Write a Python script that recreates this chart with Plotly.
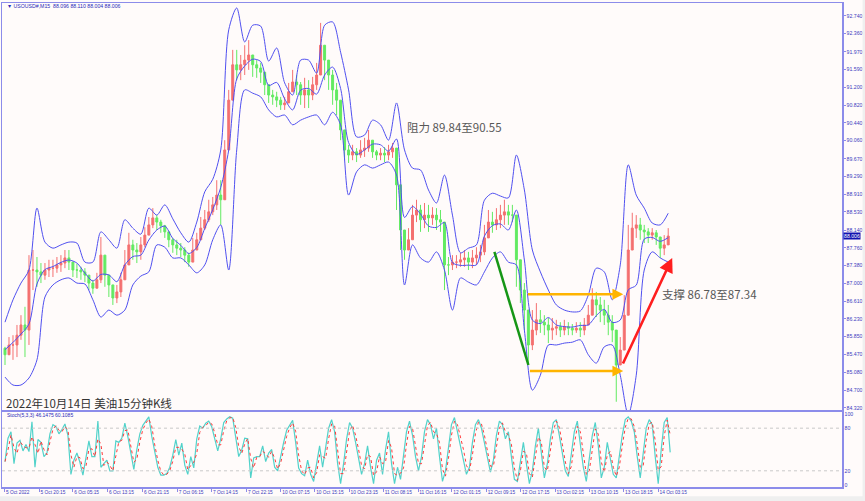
import numpy as np
import pandas as pd
import plotly.graph_objects as go

# ---------------- data ----------------
first_open = 85.60
close = [85.46, 85.67, 85.67, 85.88, 86.10, 85.99, 87.28, 87.28, 87.24, 87.17, 87.28, 87.32, 87.32, 87.39,
         87.43, 87.54, 87.45, 87.28, 87.28, 87.24, 87.17, 87.00, 86.89, 87.07, 87.60, 87.17, 86.96, 86.68,
         86.81, 87.07, 87.39, 87.82, 87.71, 87.67, 87.82, 88.03, 88.25, 88.40, 88.31, 88.23, 88.10, 87.93,
         87.82, 87.75, 87.71, 87.60, 87.45, 87.71, 87.93, 88.18, 88.36, 88.53, 88.68, 88.89, 88.79, 89.86,
         90.93, 91.69, 91.58, 91.69, 91.79, 91.90, 91.69, 91.62, 91.53, 91.26, 91.04, 91.00, 90.93, 90.83,
         90.87, 91.11, 91.32, 91.26, 91.04, 91.15, 91.04, 91.26, 91.47, 92.11, 91.79, 91.47, 91.15, 90.93,
         90.29, 89.86, 89.75, 89.82, 89.75, 89.86, 89.90, 90.07, 89.82, 89.75, 89.79, 89.75, 89.82, 89.90,
         89.11, 88.14, 87.71, 87.93, 88.46, 88.57, 88.36, 88.46, 88.40, 88.46, 88.36, 88.31, 87.39, 87.39,
         87.45, 87.45, 87.50, 87.54, 87.45, 87.54, 87.60, 87.67, 87.97, 88.31, 88.25, 88.36, 88.46, 88.53,
         88.46, 88.46, 87.50, 86.85, 86.42, 85.67, 85.99, 86.21, 86.16, 86.10, 85.99, 86.03, 86.06, 85.99,
         86.06, 86.03, 85.99, 86.03, 85.99, 86.10, 86.31, 86.64, 86.53, 86.42, 86.31, 86.16, 85.99, 85.24,
         85.56, 86.31, 87.71, 88.18, 88.25, 88.14, 88.10, 88.03, 88.08, 87.99, 87.75, 87.82, 88.01]
high = [85.63, 85.84, 85.88, 86.10, 86.31, 86.49, 87.60, 87.71, 87.56, 87.43, 87.43, 87.50, 87.50, 87.56,
        87.60, 87.71, 87.71, 87.43, 87.41, 87.35, 87.32, 87.13, 87.07, 87.22, 87.99, 87.50, 87.13, 86.85,
        86.96, 87.22, 87.71, 88.08, 87.93, 87.86, 87.99, 88.20, 88.42, 88.61, 88.46, 88.36, 88.25, 88.03,
        87.97, 87.93, 87.86, 87.77, 87.65, 87.97, 88.08, 88.42, 88.57, 88.79, 88.85, 89.21, 89.21, 90.07,
        91.15, 92.01, 92.01, 91.90, 92.11, 92.22, 91.90, 91.79, 91.73, 91.47, 91.26, 91.15, 91.11, 91.00,
        91.00, 91.30, 91.58, 91.47, 91.32, 91.41, 91.36, 91.43, 91.73, 92.59, 92.11, 91.79, 91.58, 91.30,
        90.83, 90.14, 89.97, 89.97, 89.90, 90.07, 90.12, 90.29, 89.97, 89.86, 89.90, 89.92, 89.97, 90.01,
        89.64, 88.57, 88.14, 88.18, 88.68, 88.79, 88.68, 88.72, 88.68, 88.63, 88.61, 88.57, 87.93, 87.56,
        87.60, 87.60, 87.65, 87.71, 87.67, 87.71, 87.77, 87.82, 88.25, 88.57, 88.53, 88.61, 88.68, 88.79,
        88.68, 88.68, 88.46, 87.13, 87.00, 86.27, 86.42, 86.57, 86.42, 86.31, 86.25, 86.25, 86.21, 86.16,
        86.21, 86.16, 86.12, 86.16, 86.16, 86.25, 86.53, 86.89, 86.81, 86.70, 86.64, 86.53, 86.31, 85.78,
        85.84, 86.74, 88.25, 88.51, 88.46, 88.40, 88.25, 88.18, 88.18, 88.14, 87.93, 88.03, 88.18]
low = [85.24, 85.52, 85.35, 85.41, 85.78, 85.41, 85.67, 86.85, 86.92, 87.00, 87.07, 87.13, 87.13, 87.22,
       87.24, 87.32, 87.28, 87.13, 87.11, 87.07, 87.02, 86.85, 86.77, 86.92, 87.00, 86.92, 86.70, 86.53,
       86.57, 86.70, 87.13, 87.50, 87.50, 87.43, 87.50, 87.77, 88.03, 88.18, 88.14, 88.08, 87.97, 87.77,
       87.65, 87.60, 87.56, 87.45, 87.35, 87.45, 87.71, 87.97, 88.14, 88.31, 88.46, 88.57, 88.25, 88.79,
       89.86, 90.93, 91.36, 91.36, 91.47, 91.58, 91.43, 91.41, 91.30, 91.04, 90.87, 90.83, 90.78, 90.72,
       90.72, 90.93, 91.11, 91.04, 90.83, 90.76, 90.76, 90.93, 91.15, 91.64, 91.36, 91.15, 90.83, 90.61,
       90.07, 89.64, 89.58, 89.64, 89.60, 89.69, 89.71, 89.82, 89.69, 89.64, 89.64, 89.60, 89.64, 89.69,
       88.57, 87.71, 87.50, 87.71, 88.18, 88.31, 88.10, 88.18, 88.10, 88.25, 88.14, 88.10, 86.85, 87.17,
       87.28, 87.32, 87.35, 87.35, 87.28, 87.32, 87.39, 87.45, 87.60, 88.03, 88.08, 88.14, 88.18, 88.25,
       88.25, 88.31, 86.92, 86.57, 85.99, 85.28, 85.56, 85.88, 85.93, 85.88, 85.71, 85.78, 85.88, 85.84,
       85.88, 85.88, 85.88, 85.93, 85.84, 85.88, 86.16, 86.36, 86.27, 86.16, 86.10, 85.88, 85.73, 84.45,
       85.24, 85.67, 86.64, 87.82, 87.97, 87.93, 87.86, 87.86, 87.93, 87.82, 87.54, 87.60, 87.88]

# Bollinger band (20,2) read every 8 px along the time axis
bb_upper = [86.16, 86.64, 87.00, 87.28, 88.61, 87.88, 87.75, 87.82, 87.88, 87.86, 87.45, 87.45, 88.10, 87.93,
            87.75, 88.36, 88.18, 88.05, 88.61, 88.46, 88.68, 88.38, 88.08, 87.88, 88.31, 88.96, 89.23, 89.86,
            92.44, 92.91, 92.18, 92.54, 92.52, 91.77, 92.05, 91.30, 91.04, 91.79, 91.79, 91.51, 92.54, 92.61,
            91.96, 91.15, 90.14, 90.18, 90.50, 90.40, 90.07, 90.87, 89.86, 89.47, 89.43, 89.00, 88.72, 89.32,
            88.46, 87.65, 87.75, 87.82, 88.78, 88.93, 88.87, 88.83, 89.75, 89.00, 87.71, 87.24, 86.85, 86.53,
            86.42, 86.38, 86.40, 86.74, 87.32, 87.24, 86.64, 87.39, 89.54, 88.89, 88.61, 88.29, 88.25, 88.50]
bb_lower = [84.98, 84.81, 84.81, 84.96, 85.35, 86.70, 86.96, 87.07, 87.11, 87.00, 86.98, 86.64, 86.27, 86.42,
            86.31, 86.42, 86.96, 87.15, 87.24, 87.82, 87.77, 87.54, 87.54, 87.39, 87.22, 87.39, 87.93, 88.25,
            87.28, 89.86, 91.15, 91.08, 91.00, 90.72, 90.57, 90.61, 90.40, 90.50, 90.57, 90.61, 90.40, 90.67,
            90.40, 88.89, 89.39, 89.54, 89.47, 89.54, 89.60, 89.32, 86.96, 87.82, 87.54, 87.45, 87.67, 87.28,
            86.42, 87.11, 87.02, 86.96, 87.24, 87.54, 87.67, 87.45, 87.39, 85.99, 84.70, 85.02, 85.67, 85.67,
            85.71, 85.73, 85.78, 85.46, 85.28, 85.63, 85.67, 85.02, 84.17, 85.02, 87.28, 87.67, 87.54, 87.45]

stoch_k = [33, 66, 75, 30, 59, 63, 48, 57, 47, 89,
           25, 64, 60, 40, 45, 72, 85, 82, 72, 78,
           86, 70, 15, 35, 45, 32, 14, 38, 62, 40,
           40, 90, 25, 30, 35, 20, 20, 62, 60, 66,
           87, 68, 42, 22, 50, 72, 84, 90, 96, 68,
           44, 25, 14, 14, 16, 25, 42, 64, 42, 59,
           28, 15, 40, 24, 65, 83, 80, 87, 90, 82,
           65, 48, 65, 88, 93, 96, 94, 68, 40, 49,
           66, 65, 10, 38, 40, 40, 55, 33, 45, 50,
           25, 20, 42, 60, 77, 84, 91, 60, 24, 16,
           13, 35, 15, 5, 30, 55, 25, 50, 80, 92,
           75, 30, 2, 30, 65, 88, 80, 60, 40, 15,
           30, 55, 25, 2, 35, 45, 15, 50, 75, 30,
           2, 25, 8, 40, 75, 90, 70, 40, 20, 40,
           75, 92, 85, 65, 80, 40, 5, 20, 55, 85,
           95, 75, 60, 40, 15, 25, 60, 85, 92, 80,
           60, 35, 18, 35, 70, 90, 85, 65, 75, 40,
           8, 5, 35, 60, 30, 2, 20, 55, 80, 40,
           10, 30, 65, 88, 92, 70, 45, 20, 12, 40,
           75, 90, 60, 25, 5, 35, 70, 88, 55, 10,
           25, 60, 35, 15, 10, 40, 70, 92, 96, 90,
           75, 40, 10, 45, 80, 92, 85, 40, 2, 50,
           88, 95, 46]
stoch_levels = [20, 80]

price_ticks = [92.740, 92.360, 91.970, 91.590, 91.200, 90.820, 90.440, 90.060, 89.670, 89.290, 88.910,
               88.530, 88.140, 87.760, 87.380, 87.000, 86.610, 86.230, 85.850, 85.470, 85.080, 84.700, 84.320]
time_labels = ["5 Oct 2022", "5 Oct 20:15", "6 Oct 05:15", "6 Oct 13:15", "6 Oct 21:15", "7 Oct 06:15",
               "7 Oct 14:15", "7 Oct 22:15", "10 Oct 07:15", "10 Oct 15:15", "10 Oct 23:15", "11 Oct 08:15",
               "11 Oct 16:15", "12 Oct 01:15", "12 Oct 09:15", "12 Oct 17:15", "13 Oct 02:15", "13 Oct 10:15",
               "13 Oct 18:15", "14 Oct 03:15"]
time_tick_pos = [1.7, 36.3, 70, 105, 140, 174.7, 209, 244, 278.3, 312.3, 346.7, 381, 415.5, 449.5, 484,
                 518.4, 552.8, 587.2, 621.6, 656]
last_price = 88.006
header_text = "▼ USOUSD#,M15  88.096 88.110 88.004 88.006"
stoch_text = "Stoch(5,3,3) 46.1475 60.1085"

# drawn objects (time position, price)
green_line = dict(x=[492, 526], y=[87.67, 85.24])
orange_upper = dict(x=[524, 621], y=[86.76, 86.76])
orange_lower = dict(x=[526, 621], y=[85.11, 85.11])
red_arrow = dict(x=[620, 670], y=[85.24, 87.54])
resist_label = dict(x=403, y=90.35, text="阻力 89.84至90.55")
support_label = dict(x=659, y=86.77, text="支撑 86.78至87.34")
title_label = dict(x=2, y=84.42, text="2022年10月14日 美油15分钟K线")

# ---------------- derived series ----------------
n = len(close)
candle_x = np.arange(n) * 4 + 2
opens = np.r_[first_open, np.array(close[:-1])]
hi = np.maximum(np.array(high), np.maximum(opens, close))
lo = np.minimum(np.array(low), np.minimum(opens, close))

bb_x = np.arange(len(bb_upper)) * 8 + 2
bb_up = np.array(bb_upper)
bb_lo = np.array(bb_lower)
bb_mid = (bb_up + bb_lo) / 2

k = pd.Series(stoch_k, dtype=float)
d = k.rolling(2, min_periods=1).mean()
stoch_x = np.arange(len(k)) * 3 + 2

# ---------------- figure ----------------
BG = "#FFFBFA"
AX = "#8C8CEA"
LBL = "#3C3CC0"
BAND = "#5050F0"
FONT = "Liberation Sans"

fig = go.Figure()
fig.add_trace(go.Candlestick(
    x=candle_x, open=opens, high=hi, low=lo, close=close,
    increasing=dict(line=dict(color="#F47070", width=1), fillcolor="#F47070"),
    decreasing=dict(line=dict(color="#62EA62", width=1), fillcolor="#62EA62"),
    whiskerwidth=0, showlegend=False, hoverinfo="skip", xaxis="x", yaxis="y"))
for s in (bb_up, bb_mid, bb_lo):
    fig.add_trace(go.Scatter(x=bb_x, y=s, mode="lines", line=dict(color=BAND, width=1, shape="spline", smoothing=0.8),
                             showlegend=False, hoverinfo="skip", xaxis="x", yaxis="y"))
fig.add_trace(go.Scatter(x=stoch_x, y=k, mode="lines", line=dict(color="#52D2CA", width=1.2),
                         showlegend=False, hoverinfo="skip", xaxis="x2", yaxis="y2"))
fig.add_trace(go.Scatter(x=stoch_x, y=d, mode="lines", line=dict(color="#FF3A3A", width=1, dash="dot"),
                         showlegend=False, hoverinfo="skip", xaxis="x2", yaxis="y2"))

shapes = []
for lv in stoch_levels:
    shapes.append(dict(type="line", xref="x2 domain", yref="y2", x0=0, x1=1, y0=lv, y1=lv,
                       line=dict(color="#C9C9C9", width=1, dash="dot")))
shapes.append(dict(type="line", xref="x", yref="y", x0=green_line["x"][0], y0=green_line["y"][0],
                   x1=green_line["x"][1], y1=green_line["y"][1], line=dict(color="#169616", width=2.5)))
# light grey window strips (bottom and right edge)
shapes.append(dict(type="rect", xref="paper", yref="paper", x0=-0.01, x1=1.04, y0=-0.04, y1=-0.019,
                   line=dict(width=0), fillcolor="#EFEFEF"))
shapes.append(dict(type="rect", xref="paper", yref="paper", x0=1.0245, x1=1.04, y0=-0.04, y1=1.01,
                   line=dict(width=0), fillcolor="#EFEFEF"))

annotations = []
for obj, col, w, size in ((orange_upper, "#FFB400", 2.4, 0.9), (orange_lower, "#FFB400", 2.4, 0.9),
                          (red_arrow, "#FF1E1E", 2.6, 1.1)):
    annotations.append(dict(x=obj["x"][1], y=obj["y"][1], ax=obj["x"][0], ay=obj["y"][0],
                            xref="x", yref="y", axref="x", ayref="y", text="", showarrow=True,
                            arrowhead=2, arrowsize=size, arrowwidth=w, arrowcolor=col))
for lab, sz, col in ((resist_label, 11.5, "#585858"), (support_label, 11.5, "#585858"),
                     (title_label, 11.5, "#333333")):
    annotations.append(dict(x=lab["x"], y=lab["y"], xref="x", yref="y", text=lab["text"], showarrow=False,
                            xanchor="left", yanchor="middle", borderpad=0,
                            font=dict(family="Noto Sans CJK SC", size=sz, color=col)))
annotations.append(dict(x=3, y=92.95, xref="x", yref="y", text=header_text, showarrow=False,
                        xanchor="left", yanchor="middle", borderpad=0,
                        font=dict(family=FONT, size=5.2, color="#2A2AB8")))
annotations.append(dict(x=3, y=98.6, xref="x2", yref="y2", text=stoch_text, showarrow=False,
                        xanchor="left", yanchor="middle", borderpad=0,
                        font=dict(family=FONT, size=5, color="#2A2AB8")))
annotations.append(dict(x=1, y=last_price, xref="paper", yref="y", text=f"{last_price:.3f}", showarrow=False,
                        xanchor="left", yanchor="middle", xshift=1, bgcolor="#1212B0", borderpad=0,
                        font=dict(family=FONT, size=5.2, color="white")))

fig.update_layout(
    width=865, height=501, margin=dict(l=2, r=23, t=3, b=14, autoexpand=False),
    paper_bgcolor=BG, plot_bgcolor=BG, showlegend=False, hovermode=False,
    shapes=shapes, annotations=annotations,
    xaxis=dict(domain=[0, 1], range=[-1, 840], anchor="y", showticklabels=False, ticks="",
               showline=True, mirror=True, linecolor=AX, linewidth=1.5, showgrid=False, zeroline=False,
               rangeslider=dict(visible=False), automargin=False),
    yaxis=dict(domain=[0.1591, 1], range=[84.273, 93.017], anchor="x", side="right",
               tickvals=price_ticks, ticktext=[f"{v:.3f}" for v in price_ticks],
               ticks="outside", ticklen=2, tickcolor=AX,
               tickfont=dict(family=FONT, size=5.2, color=LBL), automargin=False,
               showline=True, mirror=True, linecolor=AX, linewidth=1.5, showgrid=False, zeroline=False),
    xaxis2=dict(domain=[0, 1], range=[-1, 840], anchor="y2", tickvals=time_tick_pos, ticktext=time_labels,
                ticks="outside", ticklen=3, tickcolor=AX, ticklabelposition="outside right", tickangle=0,
                tickfont=dict(family=FONT, size=4.8, color=LBL), automargin=False,
                showline=True, mirror=True, linecolor=AX, linewidth=1.5, showgrid=False, zeroline=False),
    yaxis2=dict(domain=[0, 0.155], range=[-2.8, 102.8], anchor="x2", side="right",
                tickvals=[0, 20, 80, 100], ticktext=["0", "20", "80", "100"], automargin=False,
                ticks="", tickfont=dict(family=FONT, size=5.2, color=LBL),
                showline=True, mirror=True, linecolor=AX, linewidth=1.5, showgrid=False, zeroline=False),
)

fig.write_html("out.html", config={"displayModeBar": False, "staticPlot": True},
               post_script="document.body.style.margin='0px';document.body.style.overflow='hidden';")
